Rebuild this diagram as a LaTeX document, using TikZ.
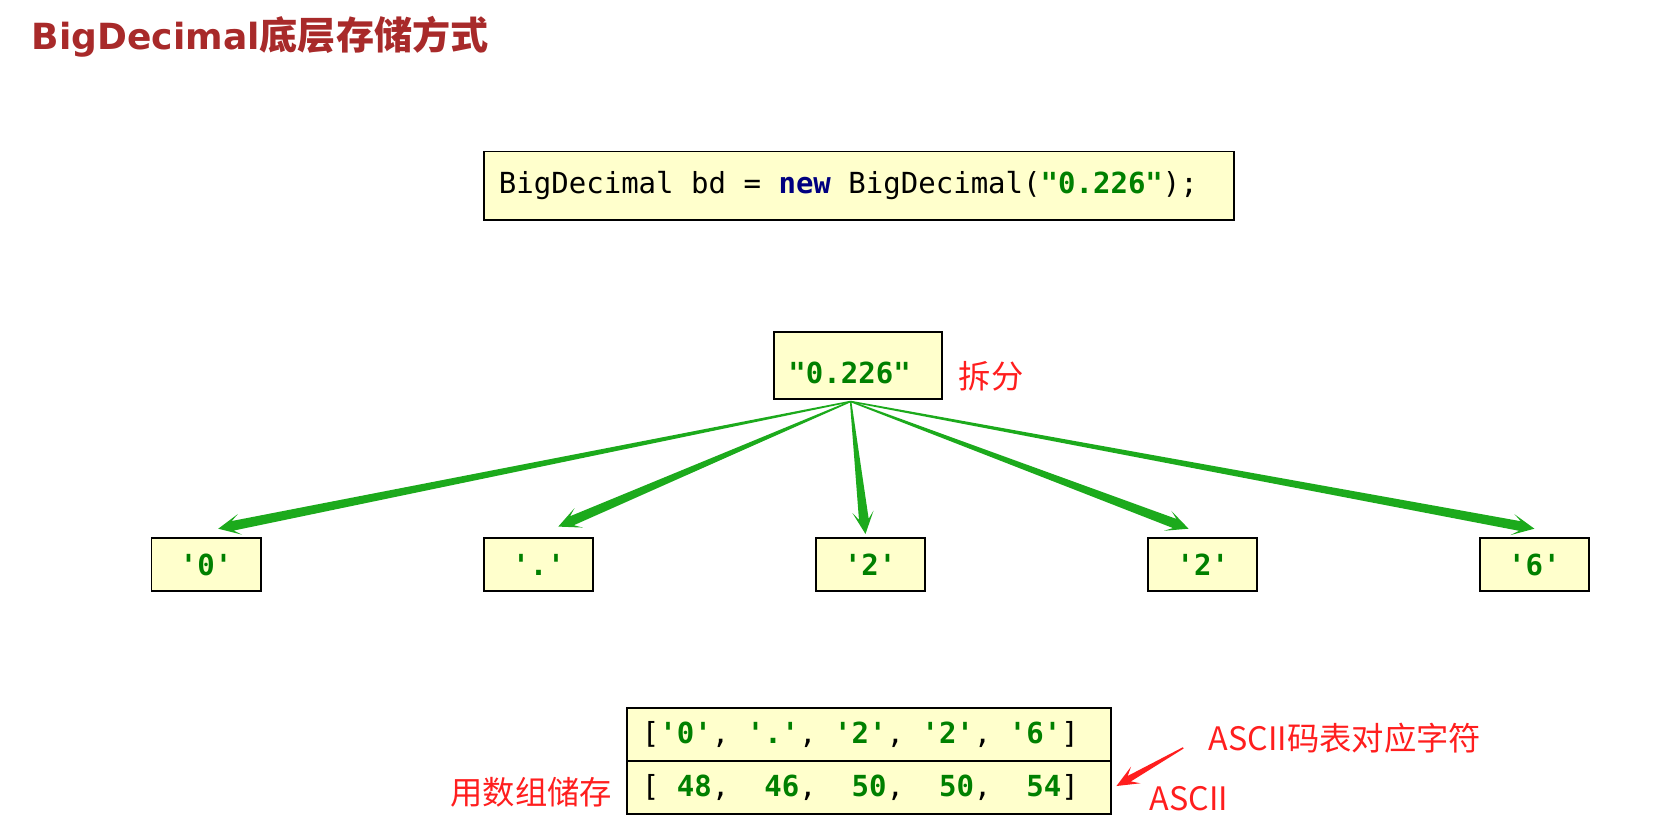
\documentclass[tikz,border=0pt]{standalone}
\usepackage{fontspec}
\usetikzlibrary{calc}
\setmonofont{DejaVu Sans Mono}
\newfontfamily\cjk{Noto Sans CJK SC}
\newfontfamily\dvs{DejaVu Sans}
\definecolor{boxfill}{RGB}{255,255,204}
\definecolor{codegreen}{RGB}{0,128,0}
\definecolor{kwblue}{RGB}{0,0,128}
\definecolor{arrowgreen}{RGB}{28,170,28}
\definecolor{titlered}{RGB}{168,42,42}
\definecolor{notered}{RGB}{255,30,30}
\newcommand\grn[1]{\textcolor{codegreen}{\bfseries #1}}
\newcommand\monosp{\spaceskip=0.6021em\relax\xspaceskip=0.6021em\relax}
% tapered arrow: #1 start, #2 end, #3 colour, #4 shaft half width, #5 head half width
\newcommand\tarrow[5]{%
  \coordinate (ta-h) at ($(#2)!14pt!(#1)$);
  \coordinate (ta-w) at ($(#2)!21pt!(#1)$);
  \fill[#3] ($(#1)!0.7pt!90:(#2)$) -- ($(ta-h)!#4!90:(#2)$) -- ($(ta-w)!#5!90:(#2)$) -- (#2)
     -- ($(ta-w)!#5!-90:(#2)$) -- ($(ta-h)!#4!-90:(#2)$) -- ($(#1)!0.7pt!-90:(#2)$) -- cycle;
}
\begin{document}
\begin{tikzpicture}[x=1pt,y=-1pt,
  box/.style={draw=black, line width=1.8pt, fill=boxfill, inner sep=0pt},
  mono/.style={font=\ttfamily\fontsize{27.4}{32}\selectfont, execute at begin node=\monosp},
  note/.style={text=notered, font=\cjk\fontsize{30.5}{36}\selectfont, inner sep=0pt},
]
\useasboundingbox (0,0) rectangle (1568,782);

% title
\node[anchor=west, inner sep=0pt, text=titlered] (title) at (30,35)
  {\dvs\bfseries\fontsize{34}{40}\selectfont BigDecimal{\cjk\bfseries\fontsize{36}{40}\selectfont 底层存储方式}};

% code line
\node[box, mono, minimum width=708, minimum height=65, text width=680, align=left, inner xsep=14pt] (code) at (811,175.5)
  {BigDecimal bd = \textcolor{kwblue}{\bfseries new} BigDecimal(\grn{"0.226"});};

% string box
\node[box, minimum width=158, minimum height=64] (str) at (810,345) {};
\node[mono, inner sep=0pt] (strtext) at (802,352) {\grn{"0.226"}};
\node[note, anchor=west] (splitlbl) at (905,355) {拆分};

% character boxes
\node[box, mono, minimum width=103, minimum height=50] (c0) at (194.5,533) {\grn{'0'}};
\node[box, mono, minimum width=103, minimum height=50] (c1) at (508.5,533) {\grn{'.'}};
\node[box, mono, minimum width=103, minimum height=50] (c2) at (821.5,533) {\grn{'2'}};
\node[box, mono, minimum width=103, minimum height=50] (c3) at (1135.5,533) {\grn{'2'}};
\node[box, mono, minimum width=103, minimum height=50] (c4) at (1448.5,533) {\grn{'6'}};

% arrows
\coordinate (src) at (803,379);
\coordinate (t0) at ($(c0.north)+(11.5,-8)$);
\coordinate (t1) at ($(c1.north)+(18.5,-10)$);
\coordinate (t2) at ($(c2.north)+(-4.5,-3)$);
\coordinate (t3) at ($(c3.north)+(-13.5,-8)$);
\coordinate (t4) at ($(c4.north)+(0,-8)$);
\tarrow{src}{t0}{arrowgreen}{4.6pt}{10pt}
\tarrow{src}{t1}{arrowgreen}{4.6pt}{10pt}
\tarrow{src}{t2}{arrowgreen}{4.6pt}{10pt}
\tarrow{src}{t3}{arrowgreen}{4.6pt}{10pt}
\tarrow{src}{t4}{arrowgreen}{4.6pt}{10pt}

% array boxes
\node[box, mono, minimum width=457, minimum height=50, text width=429, align=left, inner xsep=14pt] (arr1) at (820.5,693)
  {[\grn{'0'}, \grn{'.'}, \grn{'2'}, \grn{'2'}, \grn{'6'}]};
\node[box, mono, minimum width=457, minimum height=50, text width=429, align=left, inner xsep=14pt] (arr2) at (820.5,743)
  {[ \grn{48},\ \ \grn{46},\ \ \grn{50},\ \ \grn{50},\ \ \grn{54}]};

\node[note, anchor=east] (storelbl) at (578,748) {用数组储存};
\node[note, anchor=west] (asciitbl) at (1141,697) {ASCII码表对应字符};
\node[note, anchor=west] (ascii) at (1085,754) {ASCII};

\coordinate (ras) at ($(asciitbl.west)+(-24,9)$);
\coordinate (rae) at ($(arr2.east)+(4,-1)$);
\tarrow{ras}{rae}{notered}{3pt}{9pt}
\end{tikzpicture}
\end{document}
